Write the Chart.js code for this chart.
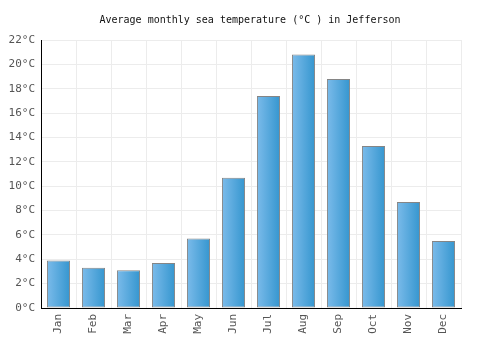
<!DOCTYPE html>
<html>
<head>
<meta charset="utf-8">
<script src="https://cdn.jsdelivr.net/npm/chart.js@4"></script>
<style>
    html, body { margin: 0; padding: 0; background: #fff; }
    #wrap { width: 500px; height: 350px; }
</style>
</head>
<body>
<div id="wrap"><canvas id="seaTemp"></canvas></div>
<script>
// values
const months = ['Jan', 'Feb', 'Mar', 'Apr', 'May', 'Jun', 'Jul', 'Aug', 'Sep', 'Oct', 'Nov', 'Dec'];
const seaTemps = [3.9, 3.3, 3.1, 3.7, 5.7, 10.7, 17.4, 20.8, 18.8, 13.3, 8.7, 5.5];
const chartTitle = 'Average monthly sea temperature (°C ) in Jefferson';

const monoFont = '"DejaVu Sans Mono", "Liberation Mono", monospace';

function barGradient(context) {
    let chart = context.chart;
    if (!chart.chartArea || !chart.scales.x) {
        return '#55a6dc';
    }
    let x = chart.scales.x.getPixelForValue(context.dataIndex);
    let half = 11.5;
    let g = chart.ctx.createLinearGradient(x - half, 0, x + half, 0);
    g.addColorStop(0, '#7bbbea');
    g.addColorStop(1, '#3596cf');
    return g;
}

let ctx = document.getElementById('seaTemp');
let myChart = new Chart(ctx, {
    type: 'bar',
    data: {
        labels: months,
        datasets: [{
            label: 'Sea temperature',
            data: seaTemps,
            backgroundColor: barGradient,
            borderColor: '#858585',
            borderWidth: 1,
            borderSkipped: false,
            barPercentage: 0.66,
            categoryPercentage: 1
        }]
    },
    options: {
        responsive: true,
        maintainAspectRatio: false,
        animation: false,
        plugins: {
            legend: { display: false },
            tooltip: { enabled: false },
            title: {
                display: true,
                text: chartTitle,
                color: '#111',
                font: { family: monoFont, size: 10, weight: 'normal', lineHeight: 1.2 },
                padding: { top: 14, bottom: 14 }
            }
        },
        scales: {
            x: {
                grid: {
                    color: '#ececec',
                    drawTicks: false,
                    offset: true
                },
                border: { color: '#000', width: 1 },
                ticks: {
                    color: '#555',
                    font: { family: monoFont, size: 11 },
                    minRotation: 90,
                    maxRotation: 90,
                    padding: 6
                },
                afterFit: function (scale) {
                    scale.height = 42;
                }
            },
            y: {
                min: 0,
                max: 22,
                grid: {
                    color: '#ececec',
                    drawTicks: false
                },
                border: { color: '#000', width: 1 },
                ticks: {
                    stepSize: 2,
                    color: '#555',
                    font: { family: monoFont, size: 11 },
                    padding: 6,
                    callback: function (value) {
                        return value + '°C';
                    }
                },
                afterFit: function (scale) {
                    scale.width = 41;
                }
            },
            // empty axis on the right, only to leave the right margin
            // while the title stays centred on the whole canvas
            yRight: {
                position: 'right',
                min: 0,
                max: 22,
                grid: { display: false },
                border: { display: false },
                ticks: { display: false },
                afterFit: function (scale) {
                    scale.width = 39;
                }
            }
        }
    }
});
</script>
</body>
</html>
